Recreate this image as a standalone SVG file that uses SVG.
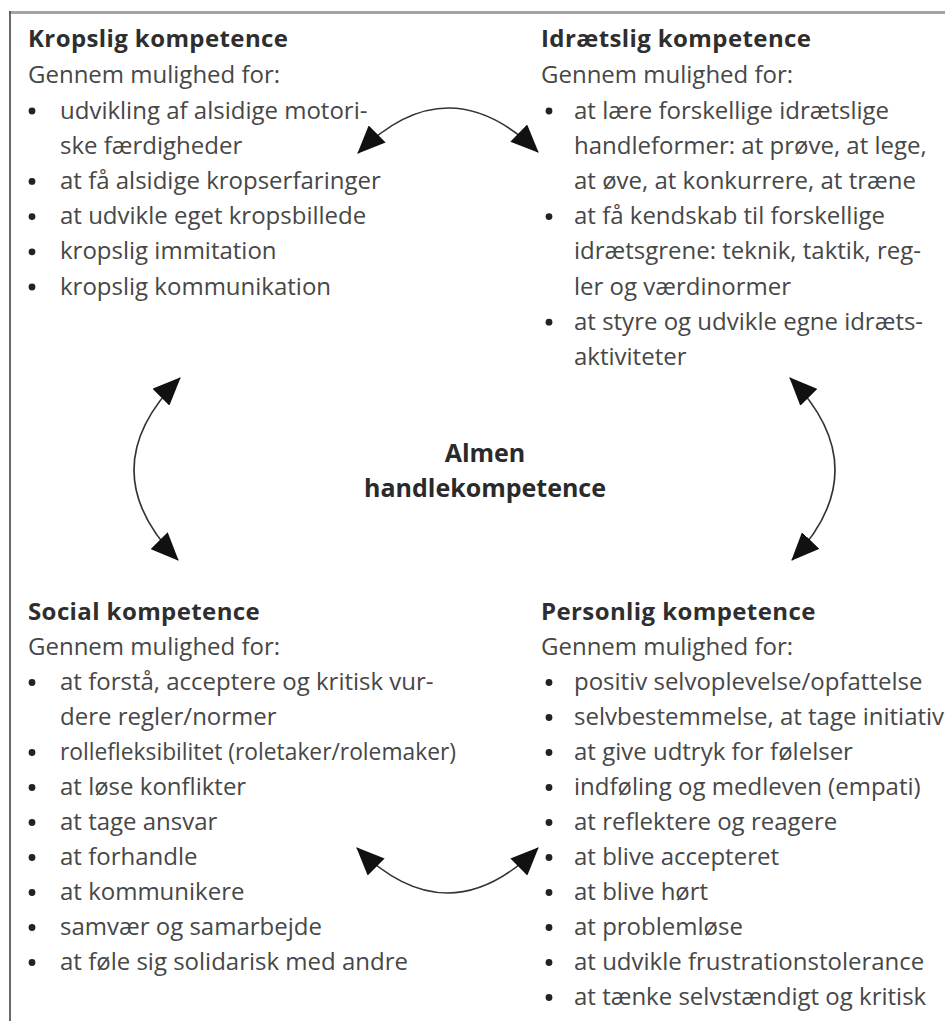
<svg xmlns="http://www.w3.org/2000/svg" width="945" height="1021" viewBox="0 0 945 1021">
  <style>
    .t { font-family: "Open Sans", "Noto Sans", "Liberation Sans", sans-serif; font-size: 24px; fill: #474747; }
    .h { font-family: "Open Sans", "Noto Sans", "Liberation Sans", sans-serif; font-size: 24px; font-weight: 700; fill: #2e2e2e; letter-spacing: 0.4px; }
    .c { font-family: "Open Sans", "Noto Sans", "Liberation Sans", sans-serif; font-size: 25px; font-weight: 700; fill: #2a2a2a; text-anchor: middle; }
    .b { fill: #222; }
    .arc { fill: none; stroke: #333; stroke-width: 1.6; }
  </style>
  <defs>
    <marker id="ah" viewBox="0 0 28 24" refX="27" refY="12" markerWidth="28" markerHeight="24" markerUnits="userSpaceOnUse" orient="auto-start-reverse">
      <path d="M0,0 L28,12 L0,24 z" fill="#111"/>
    </marker>
  </defs>
  <rect x="0" y="0" width="945" height="1021" fill="#fff"/>
  <g id="frame">
    <line x1="9" y1="12.5" x2="945" y2="12.5" stroke="#a3a3a3" stroke-width="3"/>
    <line x1="10" y1="11" x2="10" y2="1021" stroke="#5a5a5a" stroke-width="1.8"/>
  </g>

  <g id="kropslig">
    <text class="h" x="28" y="47">Kropslig kompetence</text>
    <text class="t" x="28" y="83">Gennem mulighed for:</text>
    <circle class="b" cx="32" cy="111" r="3.4"/>
    <text class="t" x="60" y="118.5">udvikling af alsidige motori-</text>
    <text class="t" x="60" y="153.7">ske færdigheder</text>
    <circle class="b" cx="32" cy="181.4" r="3.4"/>
    <text class="t" x="60" y="188.9">at få alsidige kropserfaringer</text>
    <circle class="b" cx="32" cy="216.6" r="3.4"/>
    <text class="t" x="60" y="224.1">at udvikle eget kropsbillede</text>
    <circle class="b" cx="32" cy="251.8" r="3.4"/>
    <text class="t" x="60" y="259.3">kropslig immitation</text>
    <circle class="b" cx="32" cy="287" r="3.4"/>
    <text class="t" x="60" y="294.5">kropslig kommunikation</text>
  </g>

  <g id="idraetslig">
    <text class="h" x="541" y="47">Idrætslig kompetence</text>
    <text class="t" x="541" y="83">Gennem mulighed for:</text>
    <circle class="b" cx="549" cy="111" r="3.4"/>
    <text class="t" x="574" y="118.5">at lære forskellige idrætslige</text>
    <text class="t" x="574" y="153.7">handleformer: at prøve, at lege,</text>
    <text class="t" x="574" y="188.9">at øve, at konkurrere, at træne</text>
    <circle class="b" cx="549" cy="216.6" r="3.4"/>
    <text class="t" x="574" y="224.1">at få kendskab til forskellige</text>
    <text class="t" x="574" y="259.3">idrætsgrene: teknik, taktik, reg-</text>
    <text class="t" x="574" y="294.5">ler og værdinormer</text>
    <circle class="b" cx="549" cy="322.2" r="3.4"/>
    <text class="t" x="574" y="329.7">at styre og udvikle egne idræts-</text>
    <text class="t" x="574" y="364.9">aktiviteter</text>
  </g>

  <g id="almen">
    <text class="c" x="485" y="462">Almen</text>
    <text class="c" x="485" y="497">handlekompetence</text>
  </g>

  <g id="social">
    <text class="h" x="28" y="620">Social kompetence</text>
    <text class="t" x="28" y="655">Gennem mulighed for:</text>
    <circle class="b" cx="32" cy="682.5" r="3.4"/>
    <text class="t" x="60" y="690">at forstå, acceptere og kritisk vur-</text>
    <text class="t" x="60" y="725">dere regler/normer</text>
    <circle class="b" cx="32" cy="752.5" r="3.4"/>
    <text class="t" x="60" y="760" textLength="396" lengthAdjust="spacingAndGlyphs">rollefleksibilitet (roletaker/rolemaker)</text>
    <circle class="b" cx="32" cy="787.5" r="3.4"/>
    <text class="t" x="60" y="795">at løse konflikter</text>
    <circle class="b" cx="32" cy="822.5" r="3.4"/>
    <text class="t" x="60" y="830">at tage ansvar</text>
    <circle class="b" cx="32" cy="857.5" r="3.4"/>
    <text class="t" x="60" y="865">at forhandle</text>
    <circle class="b" cx="32" cy="892.5" r="3.4"/>
    <text class="t" x="60" y="900">at kommunikere</text>
    <circle class="b" cx="32" cy="927.5" r="3.4"/>
    <text class="t" x="60" y="935">samvær og samarbejde</text>
    <circle class="b" cx="32" cy="962.5" r="3.4"/>
    <text class="t" x="60" y="970">at føle sig solidarisk med andre</text>
  </g>

  <g id="personlig">
    <text class="h" x="541" y="620">Personlig kompetence</text>
    <text class="t" x="541" y="655">Gennem mulighed for:</text>
    <circle class="b" cx="549" cy="682.5" r="3.4"/>
    <text class="t" x="574" y="690">positiv selvoplevelse/opfattelse</text>
    <circle class="b" cx="549" cy="717.5" r="3.4"/>
    <text class="t" x="574" y="725">selvbestemmelse, at tage initiativ</text>
    <circle class="b" cx="549" cy="752.5" r="3.4"/>
    <text class="t" x="574" y="760">at give udtryk for følelser</text>
    <circle class="b" cx="549" cy="787.5" r="3.4"/>
    <text class="t" x="574" y="795">indføling og medleven (empati)</text>
    <circle class="b" cx="549" cy="822.5" r="3.4"/>
    <text class="t" x="574" y="830">at reflektere og reagere</text>
    <circle class="b" cx="549" cy="857.5" r="3.4"/>
    <text class="t" x="574" y="865">at blive accepteret</text>
    <circle class="b" cx="549" cy="892.5" r="3.4"/>
    <text class="t" x="574" y="900">at blive hørt</text>
    <circle class="b" cx="549" cy="927.5" r="3.4"/>
    <text class="t" x="574" y="935">at problemløse</text>
    <circle class="b" cx="549" cy="962.5" r="3.4"/>
    <text class="t" x="574" y="970">at udvikle frustrationstolerance</text>
    <circle class="b" cx="549" cy="997.5" r="3.4"/>
    <text class="t" x="574" y="1005">at tænke selvstændigt og kritisk</text>
  </g>

  <g id="connectors">
    <path class="arc" d="M358,153 Q448,63.5 538,152" marker-start="url(#ah)" marker-end="url(#ah)"/>
    <path class="arc" d="M180,378 Q89,469 178,560" marker-start="url(#ah)" marker-end="url(#ah)"/>
    <path class="arc" d="M790,378 Q879,469 792,560" marker-start="url(#ah)" marker-end="url(#ah)"/>
    <path class="arc" d="M357,848 Q447.5,938 538,848" marker-start="url(#ah)" marker-end="url(#ah)"/>
  </g>
</svg>
